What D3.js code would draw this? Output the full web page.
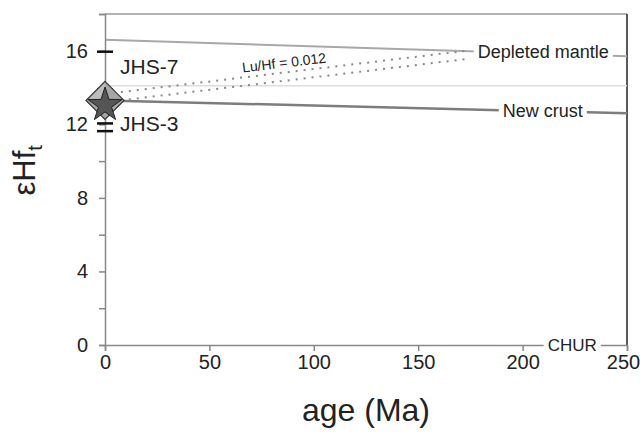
<!DOCTYPE html>
<html>
<head>
<meta charset="utf-8">
<script src="https://cdn.jsdelivr.net/npm/d3@7"></script>
<style>
  body { margin: 0; background: #fff; }
  text { font-family: "Liberation Sans", Arial, sans-serif; fill: #222; }
</style>
</head>
<body>
<svg width="640" height="434"></svg>
<script>
// tick values
const ageTicks = [0, 50, 100, 150, 200, 250];
const eHfTicks = [0, 4, 8, 12, 16];
const eHfMinor = [2, 6, 10, 14, 18];

// evolution lines (age Ma, epsilon Hf)
const dmAge = [0, 250];
const dmEHf = [16.6, 15.7];
const crustAge = [0, 250];
const crustEHf = [13.3, 12.6];
const churAge = [0, 250];
const churEHf = [0, 0];
const refAge = [0, 250];
const refEHf = [14.1, 14.1];

// Lu/Hf = 0.012 model lines
const luhfAge = [0, 173];
const luhfUpper = [13.65, 16.0];
const luhfLower = [13.2, 15.55];

// samples
const samples = ["JHS-7", "JHS-3"];
const sampleAge = [0, 0];
const sampleEHf = [13.3, 13.05];
const sampleLow = [12.05, 11.63];
const sampleHigh = [15.95, 13.9];

const svg = d3.select("svg"),
  margin = { top: 14, right: 13, bottom: 89, left: 105 },
  width = +svg.attr("width") - margin.left - margin.right,
  height = +svg.attr("height") - margin.top - margin.bottom;

const x = d3.scaleLinear().domain([0, 250]).range([0, width]);
const y = d3.scaleLinear().domain([0, 18]).range([height, 0]);

const g = svg.append("g")
  .attr("transform", `translate(${margin.left},${margin.top})`);

const pairs = (a, b) => a.map((v, i) => [v, b[i]]);
const line = d3.line().x(d => x(d[0])).y(d => y(d[1]));

// frame: top grey, right black
g.append("line").attr("x1", 0).attr("x2", width).attr("y1", 0).attr("y2", 0)
  .attr("stroke", "#999").attr("stroke-width", 1.5);
g.append("line").attr("x1", width).attr("x2", width).attr("y1", 0).attr("y2", height)
  .attr("stroke", "#222").attr("stroke-width", 1.5);

// thin reference line
g.append("path").attr("d", line(pairs(refAge, refEHf)))
  .attr("fill", "none").attr("stroke", "#ddd").attr("stroke-width", 1.5);

// depleted mantle + new crust
g.append("path").attr("d", line(pairs(dmAge, dmEHf)))
  .attr("fill", "none").attr("stroke", "#a8a8a8").attr("stroke-width", 2);
g.append("path").attr("d", line(pairs(crustAge, crustEHf)))
  .attr("fill", "none").attr("stroke", "#7d7d7d").attr("stroke-width", 2.5);

// dotted Lu/Hf lines
[luhfUpper, luhfLower].forEach(arr => {
  g.append("path").attr("d", line(pairs(luhfAge, arr)))
    .attr("fill", "none").attr("stroke", "#888").attr("stroke-width", 2)
    .attr("stroke-dasharray", "2,6");
});

const slope = Math.atan2(y(luhfUpper[1]) - y(luhfUpper[0]), x(luhfAge[1]) - x(luhfAge[0])) * 180 / Math.PI;
const lx = x(86), ly = y(luhfUpper[0] + (luhfUpper[1] - luhfUpper[0]) * 86 / luhfAge[1]) - 5;
g.append("text")
  .attr("transform", `translate(${lx},${ly}) rotate(${slope})`)
  .attr("text-anchor", "middle")
  .style("font-size", "14px")
  .text("Lu/Hf = 0.012");

// axes
const yAxis = g.append("g")
  .call(d3.axisLeft(y).tickValues(eHfTicks.concat(eHfMinor)).tickSize(6)
    .tickFormat(d => eHfTicks.includes(d) ? d : ""));
const xAxis = g.append("g")
  .attr("transform", `translate(0,${height})`)
  .call(d3.axisBottom(x).tickValues(ageTicks).tickSize(6));
[yAxis, xAxis].forEach(a => {
  a.select(".domain").attr("stroke", "#888").attr("stroke-width", 1.5);
  a.selectAll(".tick line").attr("stroke", "#888").attr("stroke-width", 1.5);
  a.selectAll(".tick text").style("font-size", "20px")
    .style("font-family", "Liberation Sans, Arial, sans-serif").attr("fill", "#222");
});
yAxis.selectAll(".tick text").attr("x", -17);
xAxis.selectAll(".tick text").attr("y", 10)
  .attr("dx", d => d === 250 ? -4 : 0);

// labels sitting on a line, with a white gap behind
function lineLabel(txt, age, val, size) {
  const t = g.append("text")
    .attr("x", x(age)).attr("y", y(val))
    .attr("dy", "0.35em")
    .style("font-size", size + "px")
    .text(txt);
  const b = t.node().getBBox();
  g.insert("rect", () => t.node())
    .attr("x", b.x - 4).attr("y", b.y + 2)
    .attr("width", b.width + 8).attr("height", b.height - 4)
    .attr("fill", "#fff");
}
lineLabel("Depleted mantle", 178.5, dmEHf[0] + (dmEHf[1] - dmEHf[0]) * 178.5 / 250, 18);
lineLabel("New crust", 190.5, crustEHf[0] + (crustEHf[1] - crustEHf[0]) * 190.5 / 250, 18);
lineLabel("CHUR", 212, 0, 17);

// error bar caps
samples.forEach((s, i) => {
  [sampleLow[i], sampleHigh[i]].forEach(v => {
    g.append("line")
      .attr("x1", x(sampleAge[i]) - 8).attr("x2", x(sampleAge[i]) + 8)
      .attr("y1", y(v)).attr("y2", y(v))
      .attr("stroke", "#111").attr("stroke-width", 2.5);
  });
});

// symbols: diamond (JHS-7) under star (JHS-3)
const cx = x(sampleAge[0]), cy0 = y(sampleEHf[0]), r = 19;
g.append("path")
  .attr("d", `M${cx},${cy0 - r}L${cx + r},${cy0}L${cx},${cy0 + r}L${cx - r},${cy0}Z`)
  .attr("fill", "#a6a6a6").attr("stroke", "#333").attr("stroke-width", 1.2);
g.append("path")
  .attr("d", `M${cx},${cy0 - r + 1.5}L${cx - r + 2},${cy0}L${cx},${cy0 + 3}Z`)
  .attr("fill", "#bdbdbd");
g.append("path")
  .attr("transform", `translate(${x(sampleAge[1])},${y(sampleEHf[1])})`)
  .attr("d", d3.symbol().type(d3.symbolStar).size(364)())
  .attr("fill", "#555").attr("stroke", "#222").attr("stroke-width", 1);

// sample labels
g.append("text").attr("x", 15).attr("y", y(sampleHigh[0]) + 22)
  .style("font-size", "21px").text(samples[0]);
g.append("text").attr("x", 15).attr("y", y(sampleLow[1]))
  .style("font-size", "21px").text(samples[1]);

// axis titles
svg.append("text")
  .attr("x", margin.left + width / 2).attr("y", 421)
  .attr("text-anchor", "middle")
  .style("font-size", "32px")
  .text("age (Ma)");

const yt = svg.append("text")
  .attr("transform", `translate(35,${margin.top + y(9.5)}) rotate(-90)`)
  .attr("text-anchor", "middle")
  .style("font-size", "31px");
yt.append("tspan").text("εHf");
yt.append("tspan").attr("dy", 7).style("font-size", "20px").text("t");
</script>
</body>
</html>
